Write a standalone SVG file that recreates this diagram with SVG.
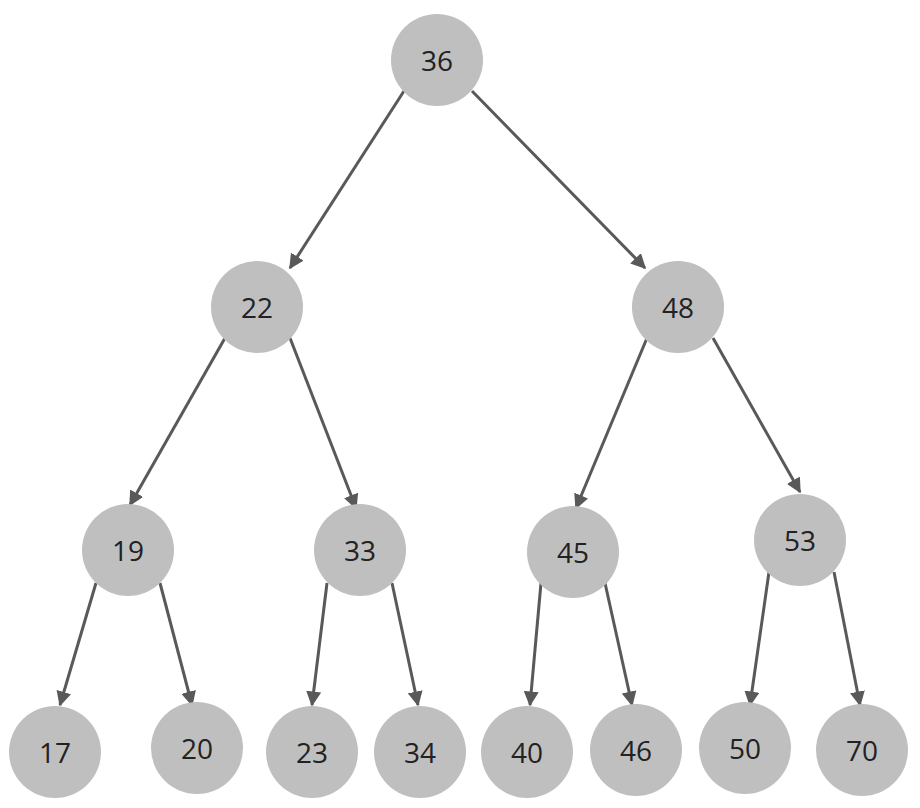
<svg xmlns="http://www.w3.org/2000/svg" width="920" height="808" viewBox="0 0 920 808">
<style>
circle{fill:#bfbfbf}
text{font-family:"Open Sans","Liberation Sans",sans-serif;font-size:28px;fill:#222;text-anchor:middle;dominant-baseline:central}
.e line{stroke:#595959;stroke-width:3;marker-end:url(#a)}
</style>
<defs><marker id="a" viewBox="0 0 10 10" refX="9" refY="5" markerWidth="5" markerHeight="5" orient="auto"><path d="M0,0L10,5L0,10z" fill="#595959"/></marker></defs>
<rect width="920" height="808" fill="#fff"/>
<g class="e">
<line x1="404" y1="91" x2="290" y2="268"/>
<line x1="472" y1="91" x2="645" y2="268"/>
<line x1="225" y1="338" x2="130" y2="505"/>
<line x1="290" y1="338" x2="356" y2="508"/>
<line x1="647" y1="338" x2="576" y2="508"/>
<line x1="713" y1="338" x2="800" y2="492"/>
<line x1="96" y1="583" x2="60" y2="705"/>
<line x1="160" y1="583" x2="192" y2="705"/>
<line x1="327" y1="583" x2="312" y2="705"/>
<line x1="392" y1="583" x2="418" y2="705"/>
<line x1="541" y1="583" x2="530" y2="705"/>
<line x1="605" y1="583" x2="632" y2="705"/>
<line x1="769" y1="572" x2="750" y2="705"/>
<line x1="834" y1="572" x2="860" y2="705"/>
</g>
<g id="n36"><circle cx="437" cy="60" r="46"/><text x="437" y="60">36</text></g>
<g id="n22"><circle cx="257" cy="307" r="46"/><text x="257" y="307">22</text></g>
<g id="n48"><circle cx="678" cy="307" r="46"/><text x="678" y="307">48</text></g>
<g id="n19"><circle cx="128" cy="550" r="46"/><text x="128" y="550">19</text></g>
<g id="n33"><circle cx="360" cy="550" r="46"/><text x="360" y="550">33</text></g>
<g id="n45"><circle cx="573" cy="552" r="46"/><text x="573" y="552">45</text></g>
<g id="n53"><circle cx="800" cy="540" r="46"/><text x="800" y="540">53</text></g>
<g id="n17"><circle cx="55" cy="752" r="46"/><text x="55" y="752">17</text></g>
<g id="n20"><circle cx="197" cy="748" r="46"/><text x="197" y="748">20</text></g>
<g id="n23"><circle cx="312" cy="752" r="46"/><text x="312" y="752">23</text></g>
<g id="n34"><circle cx="420" cy="752" r="46"/><text x="420" y="752">34</text></g>
<g id="n40"><circle cx="527" cy="752" r="46"/><text x="527" y="752">40</text></g>
<g id="n46"><circle cx="636" cy="750" r="46"/><text x="636" y="750">46</text></g>
<g id="n50"><circle cx="745" cy="748" r="46"/><text x="745" y="748">50</text></g>
<g id="n70"><circle cx="862" cy="750" r="46"/><text x="862" y="750">70</text></g>
</svg>
